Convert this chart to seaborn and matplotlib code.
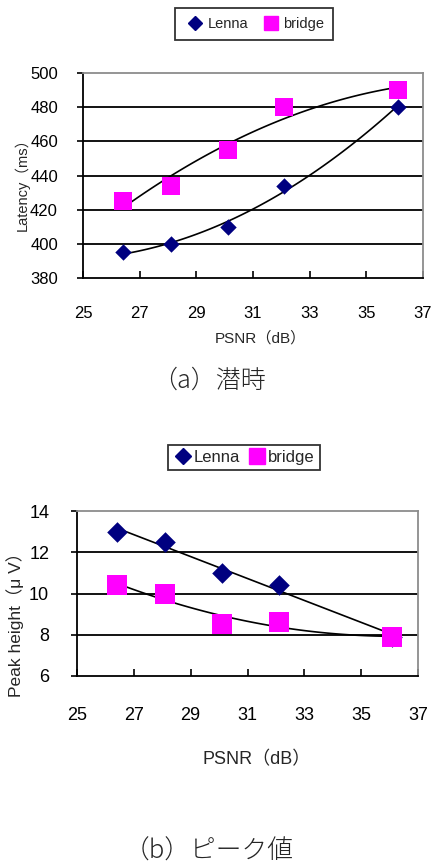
import numpy as np
import pandas as pd
import matplotlib
matplotlib.use("Agg")
import matplotlib.pyplot as plt
import seaborn as sns
from matplotlib.lines import Line2D

# ---- data ----
psnr = [26.4, 28.1, 30.1, 32.1, 36.1]
lat_lenna = [395, 400, 410, 434, 480]
lat_bridge = [425, 434, 455, 480, 490]
peak_lenna = [13.0, 12.5, 11.0, 10.4, 7.9]
peak_bridge = [10.4, 10.0, 8.5, 8.6, 7.9]
series = ["Lenna", "bridge"]
lat_yticks = [380, 400, 420, 440, 460, 480, 500]
peak_yticks = [6, 8, 10, 12, 14]
xticks = [25, 27, 29, 31, 33, 35, 37]

sns.set_theme(style="white")
plt.rcParams['font.family'] = ['Liberation Sans', 'Noto Sans CJK JP', 'DejaVu Sans']

NAVY = "#000080"
MAG = "#FF00FF"
W, H = 438, 864
fig = plt.figure(figsize=(W / 100, H / 100), dpi=100)


def ax_px(l, t, r, b):
    return fig.add_axes([l / W, 1 - b / H, (r - l) / W, (b - t) / H])


def style_axes(ax, yticks, xpad, ypad, fs):
    ax.set_xlim(25, 37)
    ax.set_ylim(yticks[0], yticks[-1])
    ax.set_xticks(xticks)
    ax.set_yticks(yticks)
    for y in yticks[1:-1]:
        ax.axhline(y, color="black", lw=1.3, zorder=1)
    for s in ["left", "bottom"]:
        ax.spines[s].set_color("black")
        ax.spines[s].set_linewidth(1.3)
    for s in ["top", "right"]:
        ax.spines[s].set_color("#8c8c8c")
        ax.spines[s].set_linewidth(1.3)
    ax.tick_params(axis="x", direction="in", length=5, width=1.2, pad=xpad,
                   labelsize=fs, colors="black", bottom=True)
    ax.tick_params(axis="y", direction="out", length=4, width=1.2, pad=ypad,
                   labelsize=fs, colors="black", left=True)
    ax.set_facecolor("white")


def draw(ax, yl, yb, orders, ds, ss):
    df = pd.DataFrame({"psnr": psnr * 2, "val": yl + yb,
                       "series": [series[0]] * len(psnr) + [series[1]] * len(psnr)})
    for name, vals, order in zip(series, [yl, yb], orders):
        sns.regplot(x=psnr, y=vals, order=order, ci=None, scatter=False,
                    truncate=True, ax=ax, line_kws=dict(color="black", lw=1.2, zorder=2))
    sns.scatterplot(data=df[df.series == "Lenna"], x="psnr", y="val", marker="D",
                    color=NAVY, s=ds, edgecolor=NAVY, linewidth=0, ax=ax, zorder=3,
                    legend=False)
    sns.scatterplot(data=df[df.series == "bridge"], x="psnr", y="val", marker="s",
                    color=MAG, s=ss, edgecolor=MAG, linewidth=0, ax=ax, zorder=4,
                    legend=False)
    ax.set_xlabel("")
    ax.set_ylabel("")


def legend(center, fs, dms, sms, bp, hl, cs):
    handles = [Line2D([], [], marker="D", color=NAVY, ls="none", markersize=dms),
               Line2D([], [], marker="s", color=MAG, ls="none", markersize=sms)]
    lg = fig.legend(handles, series, loc="center", bbox_to_anchor=center, ncol=2,
                    frameon=True, fancybox=False, edgecolor="black", fontsize=fs,
                    handletextpad=0.1, columnspacing=cs, borderpad=bp,
                    handlelength=hl)
    lg.get_frame().set_linewidth(1.3)


CAP_FONT = ['Noto Sans CJK JP', 'DejaVu Sans']

# ---- top chart ----
ax1 = ax_px(83, 73, 423, 278)
draw(ax1, lat_lenna, lat_bridge, [2, 2], 70, 170)
style_axes(ax1, lat_yticks, 20, 14, 12)
fig.text(22 / W, 1 - 181 / H, "Latency（ms）", rotation=90, ha="center", va="center",
         fontsize=10.5)
fig.text(260 / W, 1 - 338 / H, "PSNR（dB）", ha="center", va="center", fontsize=11)
fig.text(209.5 / W, 1 - 380 / H, "（a）潜時", ha="center", va="center", fontsize=18,
         family=CAP_FONT, fontweight="light")
legend((254 / W, 1 - 24 / H), 10.5, 7, 10, 0.6, 1.5, 0.8)

# ---- bottom chart ----
ax2 = ax_px(77, 511, 418, 676)
draw(ax2, peak_lenna, peak_bridge, [1, 2], 110, 220)
style_axes(ax2, peak_yticks, 22, 16, 13)
fig.text(15 / W, 1 - 620 / H, "Peak height（μ V）", rotation=90, ha="center",
         va="center", fontsize=12.5)
fig.text(257 / W, 1 - 760 / H, "PSNR（dB）", ha="center", va="center", fontsize=13)
fig.text(208.5 / W, 1 - 851 / H, "（b）ピーク値", ha="center", va="center", fontsize=18.5,
         family=CAP_FONT, fontweight="light")
legend((244 / W, 1 - 457 / H), 12, 8.5, 11, 0.3, 1.1, 0.5)

fig.savefig("out.png", dpi=100, facecolor="white")
